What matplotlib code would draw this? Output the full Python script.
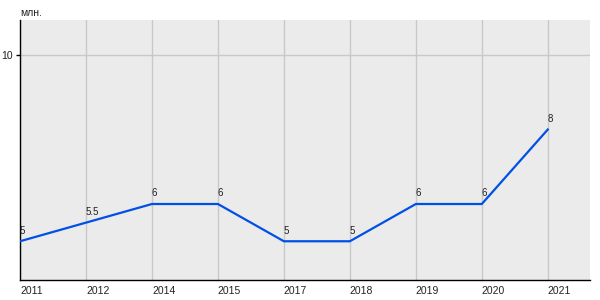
import matplotlib
matplotlib.use('Agg')
import matplotlib.pyplot as plt

plt.rcParams['font.family'] = ['Liberation Sans', 'DejaVu Sans']

# data
years = ['2011', '2012', '2014', '2015', '2017', '2018', '2019', '2020', '2021']
values = [5, 5.5, 6, 6, 5, 5, 6, 6, 8]
unit = 'млн.'

fig = plt.figure(figsize=(6, 3), dpi=100)
ax = fig.add_axes([20 / 600, 20 / 300, 570 / 600, 260 / 300])
ax.set_facecolor('#ebebeb')

xs = list(range(len(years)))
ax.plot(xs, values, color='#0050e6', linewidth=1.6, zorder=3)
for x, v in zip(xs, values):
    label = f'{v:g}'
    ax.annotate(label, (x, v), xytext=(0, 4), textcoords='offset points',
                fontsize=7, color='#222222', ha='left', va='bottom')

ax.set_xlim(0, 8.64)
ax.set_ylim(3.96, 10.94)
ax.set_xticks(xs)
ax.set_xticklabels(years, fontsize=7.5, color='#222222', ha='left')
ax.set_yticks([10])
ax.set_yticklabels(['10'], fontsize=7.5, color='#222222')
ax.tick_params(axis='x', length=0, pad=4)
ax.tick_params(axis='y', length=3, width=1, pad=2)

ax.grid(True, color='#c8c8c8', linewidth=1)
ax.set_axisbelow(True)
for side in ['top', 'right']:
    ax.spines[side].set_visible(False)
for side in ['left', 'bottom']:
    ax.spines[side].set_color('black')
    ax.spines[side].set_linewidth(1)

fig.text(20 / 600, 1 - 13 / 300, unit, fontsize=7.5, color='#222222',
         ha='left', va='center')

fig.savefig('out.png', dpi=100)
